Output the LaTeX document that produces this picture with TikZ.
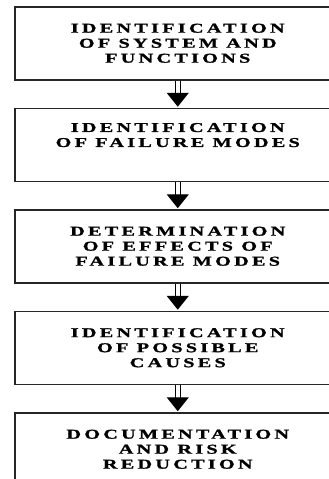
\documentclass[tikz,border=0pt]{standalone}
\usepackage{fontspec}
\setmainfont{Liberation Serif}[LetterSpace=24, FakeStretch=1.5, BoldFeatures={FakeBold=1.2}]
\usetikzlibrary{positioning,arrows.meta}

\tikzset{
  stagebox/.style={draw=black!85, line width=1.5pt, rectangle,
    minimum width=326pt, minimum height=73pt, align=center,
    font=\fontsize{13.5pt}{15pt}\selectfont\bfseries},
  flowarrow/.style={double, double distance=3.5pt, line width=1.3pt,
    -{Triangle[width=22pt,length=14pt]}, shorten >=0.75pt}
}

\begin{document}
\begin{tikzpicture}[x=1pt,y=1pt]
  \useasboundingbox (0,0) rectangle (329,-479);
  \clip (0,0) rectangle (329,-479);

  % FMEA steps
  \node[stagebox, anchor=north west] (b1) at (14,-6) {IDENTIFICATION\\OF SYSTEM AND\\FUNCTIONS};
  \node[stagebox, below=27pt of b1] (b2) {IDENTIFICATION\\OF FAILURE MODES\\\strut};
  \node[stagebox, below=27pt of b2] (b3) {DETERMINATION\\OF EFFECTS OF\\FAILURE MODES};
  \node[stagebox, below=27pt of b3] (b4) {IDENTIFICATION\\OF POSSIBLE\\CAUSES};
  \node[stagebox, below=27pt of b4] (b5) {DOCUMENTATION\\AND RISK\\REDUCTION};

  % connectors
  \draw[flowarrow] (b1) -- (b2);
  \draw[flowarrow] (b2) -- (b3);
  \draw[flowarrow] (b3) -- (b4);
  \draw[flowarrow] (b4) -- (b5);
\end{tikzpicture}
\end{document}
